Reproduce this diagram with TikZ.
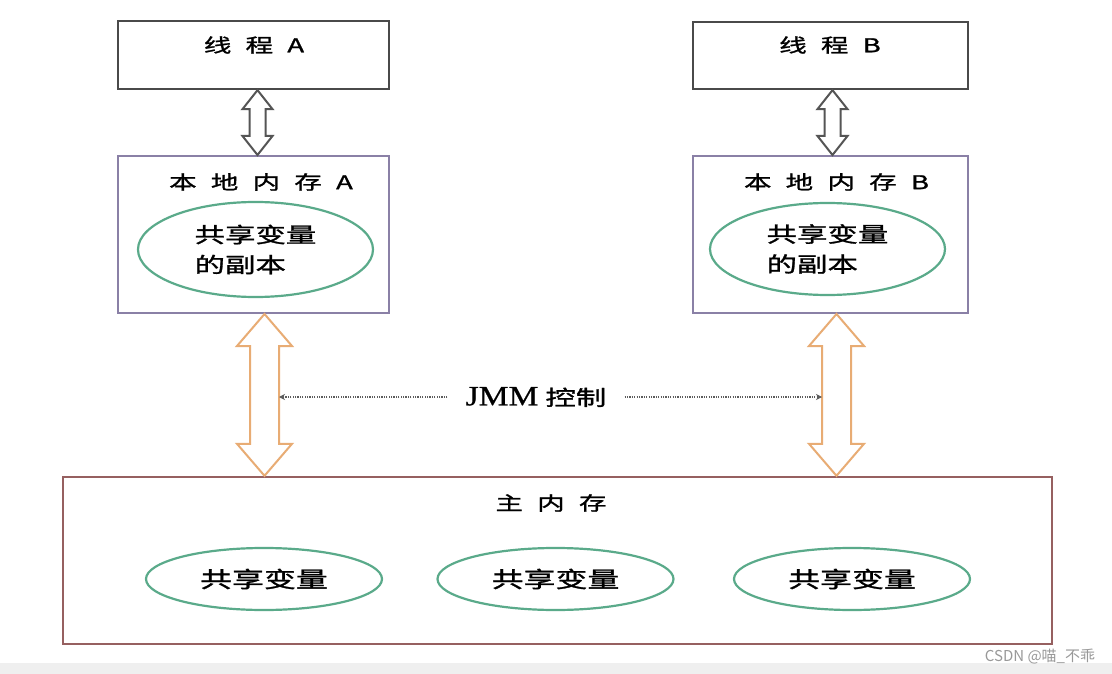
\documentclass[tikz,border=0pt]{standalone}
\usepackage{fontspec}
\newfontfamily\cjk[FakeStretch=1.45,WordSpace=2.3,FakeBold=1.3]{Noto Sans CJK SC}
\newfontfamily\jmmfont[FakeStretch=1.2,FakeBold=0.8]{Liberation Serif}
\newfontfamily\markfont{Noto Sans CJK SC}
\usetikzlibrary{arrows.meta,calc,positioning,shapes.geometric}
\definecolor{threadgray}{HTML}{4A4A4A}
\definecolor{linkgray}{HTML}{555555}
\definecolor{localpurple}{HTML}{8A80A6}
\definecolor{mainbrown}{HTML}{966060}
\definecolor{ovalgreen}{HTML}{5AAA8A}
\definecolor{syncorange}{HTML}{E8AC74}
\definecolor{dotgray}{HTML}{5C5C5C}
\definecolor{bandgray}{HTML}{EFEFEF}

\begin{document}
\begin{tikzpicture}[x=1pt,y=-1pt,>={Stealth[length=6pt,width=6pt]},
 font=\cjk\fontsize{19}{23}\selectfont,
 memrect/.style={draw,rectangle,inner sep=0pt},
 thread/.style={memrect,draw=threadgray,line width=2.3pt},
 localmem/.style={memrect,draw=localpurple,line width=2pt},
 mainmem/.style={memrect,draw=mainbrown,line width=2.4pt},
 oval/.style={ellipse,draw=ovalgreen,line width=2.2pt,inner sep=0pt,
  font=\cjk\fontsize{21}{30}\selectfont},
 jmmline/.style={->,dotgray,line width=2.4pt,dash pattern=on 1.3pt off 1.1pt},
 lbl/.style={inner sep=0pt}]
\useasboundingbox (0,0) rectangle (1112,674);
\fill[white] (0,0) rectangle (1112,674);
\fill[bandgray] (0,663) rectangle (1112,674);

% threads and local memories
\node[thread,minimum width=271pt,minimum height=68pt] (tA) at (253.5,55) {};
\node[thread,minimum width=275pt,minimum height=67pt] (tB) at (830.5,55.5) {};
\node[lbl] (tAlbl) at (254,45) {线 程 A};
\node[lbl] (tBlbl) at (830,45) {线 程 B};
\node[localmem,minimum width=271pt,minimum height=157pt] (lA) at (253.5,234.5) {};
\node[localmem,minimum width=275pt,minimum height=157pt] (lB) at (830.5,234.5) {};
\node[lbl] (lAlbl) at (261,182) {本 地 内 存 A};
\node[lbl] (lBlbl) at (836.5,182) {本 地 内 存 B};
\node[oval,minimum width=235pt,minimum height=95pt,align=left] (cA) at (255.5,249.5) {共享变量\\的副本};
\node[oval,minimum width=235pt,minimum height=92pt,align=left] (cB) at (827.5,249) {共享变量\\的副本};

% main memory
\node[mainmem,minimum width=989pt,minimum height=167pt] (mm) at (557.5,560.5) {};
\node[lbl] (mmlbl) at (551,503) {主 内 存};
\foreach \k/\cx in {1/264,2/555.5,3/852}{
 \node[oval,minimum width=236pt,minimum height=62pt,font=\cjk\fontsize{22}{26}\selectfont] (v\k) at (\cx,579) {共享变量};
}

% hollow double arrows
\foreach \u/\v/\dx/\hw/\sw/\hl/\col in {tA/lA/4/15/8/19/linkgray,tB/lB/2/15/8/19/linkgray,
 lA/mm/11/27.5/14.5/32/syncorange,lB/mm/6/27.5/14.5/32/syncorange}{
 \coordinate (top) at ([xshift=\dx pt]\u.south);
 \coordinate (bot) at (top |- \v.north);
 \coordinate (\u-e) at ($(top)!.5!(bot)+(\sw,0)$);
 \coordinate (\u-w) at ($(top)!.5!(bot)+(-\sw,0)$);
 \draw[draw=\col,fill=white,line width=2pt,line join=miter]
  (top) -- ($(top)+(\hw,\hl)$) -- ($(top)+(\sw,\hl)$) -- ($(bot)+(\sw,-\hl)$)
  -- ($(bot)+(\hw,-\hl)$) -- (bot) -- ($(bot)+(-\hw,-\hl)$) -- ($(bot)+(-\sw,-\hl)$)
  -- ($(top)+(-\sw,\hl)$) -- ($(top)+(-\hw,\hl)$) -- cycle;
}

% JMM control
\node[inner xsep=18pt,inner ysep=0pt,font=\cjk\fontsize{21}{24}\selectfont] (jmm) at (536,397)
 {{\jmmfont\fontsize{28}{30}\selectfont JMM}\hspace{7pt}控制};
\draw[jmmline] (jmm.west) -- (jmm.west -| lA-e);
\draw[jmmline] (jmm.east) -- (jmm.east -| lB-w);

\node[lbl,text=gray!80,font=\markfont\fontsize{15}{17}\selectfont] (mark) at (1040,657) {CSDN @喵\_不乖};
\end{tikzpicture}
\end{document}
